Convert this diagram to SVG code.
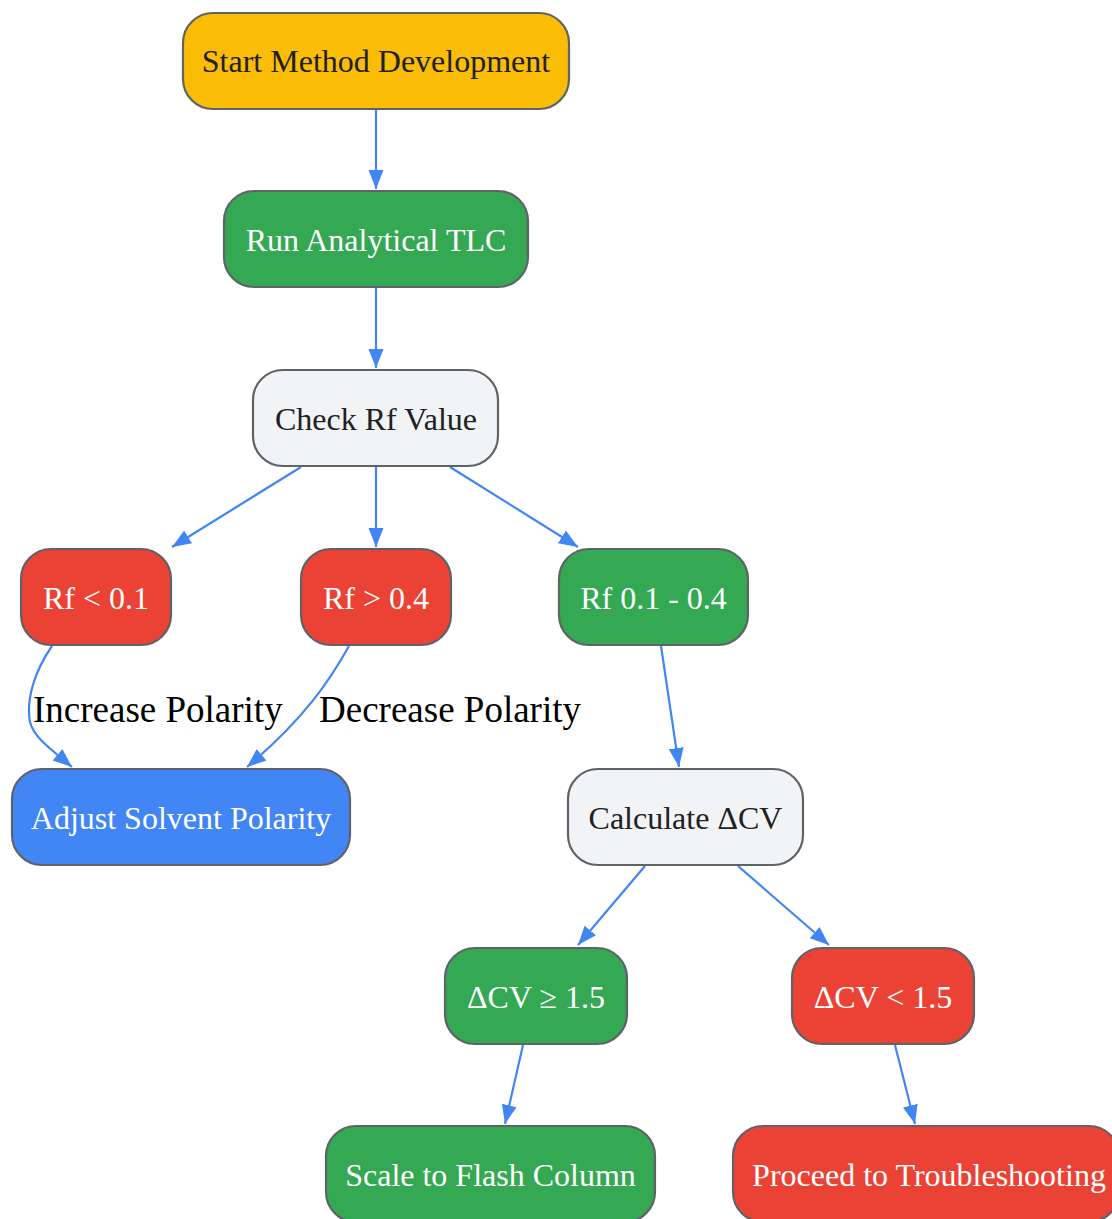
<svg xmlns="http://www.w3.org/2000/svg" width="1112" height="1219" viewBox="0 0 1112 1219">
<style>
.n rect{stroke:#5F6368;stroke-width:2.2}
.n text{font-family:"Liberation Serif","Times New Roman",serif;font-size:32px;text-anchor:middle}
.lt{fill:#FFFFFF}
.dk{fill:#202124}
.e path{fill:none;stroke:#4285F4;stroke-width:2.2}
.el{font-family:"Liberation Serif","Times New Roman",serif;font-size:37px;fill:#000000}
</style>
<defs>
<marker id="ah" markerUnits="userSpaceOnUse" markerWidth="20" markerHeight="18" refX="19" refY="9" orient="auto">
<path d="M0,1.5 L19,9 L0,16.5 Z" fill="#4285F4"/>
</marker>
</defs>
<rect width="1112" height="1219" fill="#FFFFFF"/>
<g id="edges" class="e">
<path d="M376,109 L376,189" marker-end="url(#ah)"/>
<path d="M376,287 L376,368" marker-end="url(#ah)"/>
<path d="M301,467 L172,547" marker-end="url(#ah)"/>
<path d="M376,466 L376,547" marker-end="url(#ah)"/>
<path d="M450,467 L578,547" marker-end="url(#ah)"/>
<path d="M52,646 C34,672 26,700 30,722 C34,738 52,750 72,767" marker-end="url(#ah)"/>
<path d="M349,646 C330,680 305,718 247,767" marker-end="url(#ah)"/>
<path d="M661,646 L679,767" marker-end="url(#ah)"/>
<path d="M645,866 L578,945" marker-end="url(#ah)"/>
<path d="M738,866 L829,945" marker-end="url(#ah)"/>
<path d="M523,1045 L505,1124" marker-end="url(#ah)"/>
<path d="M895,1045 L915,1124" marker-end="url(#ah)"/>
<text class="el" x="33" y="722">Increase Polarity</text>
<text class="el" x="319" y="722">Decrease Polarity</text>
</g>
<g id="start" class="n"><rect x="183" y="13" width="386" height="96" rx="30" fill="#FBBC05"/><text class="dk" x="376" y="72">Start Method Development</text></g>
<g id="run" class="n"><rect x="224" y="191" width="304" height="96" rx="30" fill="#34A853"/><text class="lt" x="376" y="251">Run Analytical TLC</text></g>
<g id="check" class="n"><rect x="253" y="370" width="245" height="96" rx="30" fill="#F1F3F4"/><text class="dk" x="376" y="430">Check Rf Value</text></g>
<g id="rflow" class="n"><rect x="21" y="549" width="150" height="96" rx="30" fill="#EA4335"/><text class="lt" x="96" y="609">Rf &lt; 0.1</text></g>
<g id="rfhigh" class="n"><rect x="301" y="549" width="150" height="96" rx="30" fill="#EA4335"/><text class="lt" x="376" y="609">Rf &gt; 0.4</text></g>
<g id="rfok" class="n"><rect x="559" y="549" width="189" height="96" rx="30" fill="#34A853"/><text class="lt" x="653.5" y="609">Rf 0.1 - 0.4</text></g>
<g id="adjust" class="n"><rect x="12" y="769" width="338" height="96" rx="30" fill="#4285F4"/><text class="lt" x="181" y="829">Adjust Solvent Polarity</text></g>
<g id="calc" class="n"><rect x="568" y="769" width="235" height="96" rx="30" fill="#F1F3F4"/><text class="dk" x="685.5" y="829">Calculate ΔCV</text></g>
<g id="cvgood" class="n"><rect x="445" y="948" width="182" height="96" rx="30" fill="#34A853"/><text class="lt" x="536" y="1008">ΔCV ≥ 1.5</text></g>
<g id="cvbad" class="n"><rect x="792" y="948" width="182" height="96" rx="30" fill="#EA4335"/><text class="lt" x="883" y="1008">ΔCV &lt; 1.5</text></g>
<g id="scale" class="n"><rect x="326" y="1126" width="329" height="96" rx="30" fill="#34A853"/><text class="lt" x="490.5" y="1186">Scale to Flash Column</text></g>
<g id="proceed" class="n"><rect x="733" y="1126" width="386" height="96" rx="30" fill="#EA4335"/><text class="lt" x="929" y="1186">Proceed to Troubleshooting</text></g>
</svg>
